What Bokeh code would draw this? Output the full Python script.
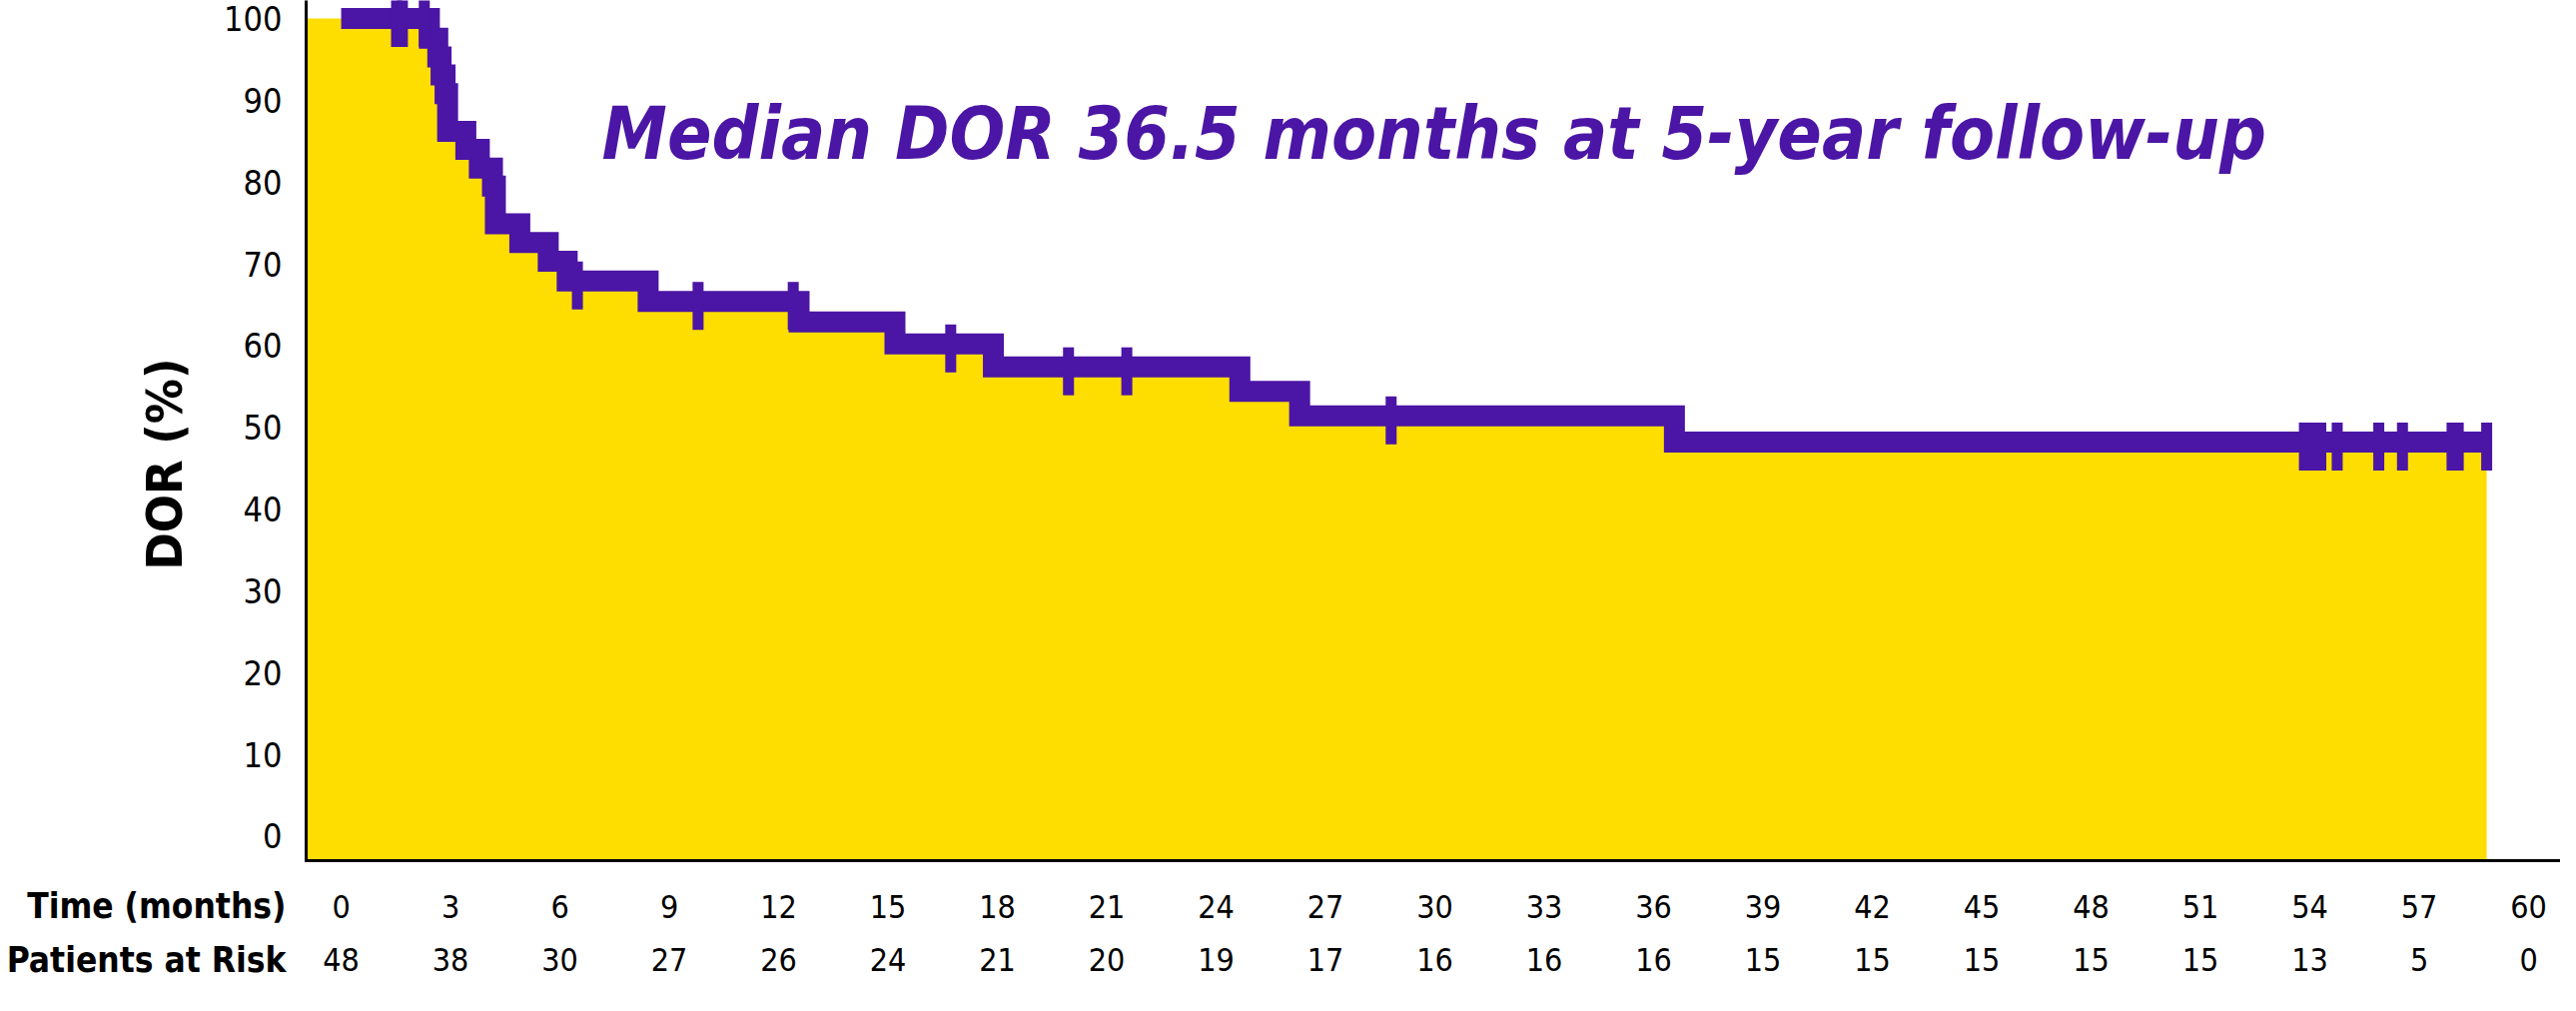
from math import pi
from bokeh.plotting import figure
from bokeh.models import Range1d
from bokeh.core.properties import value
from bokeh.embed import file_html
from bokeh.resources import INLINE

# ---------------- data ----------------
event_times = [0, 2.42, 2.65, 2.74, 2.85, 2.92, 3.42, 3.79, 4.15, 4.23, 4.90, 5.68,
               6.20, 8.42, 12.56, 15.19, 17.89, 24.65, 26.29, 36.57]
survival = [100, 97.6, 95.3, 93.1, 90.8, 86.2, 84.0, 81.7, 79.5, 74.9, 72.6, 70.3,
            67.9, 65.4, 62.9, 60.2, 57.4, 54.4, 51.4, 48.2]
end_time = 58.85
censor_times = [1.52, 1.68, 2.28, 6.48, 9.79, 12.40, 16.72, 19.95, 21.55, 28.80,
                53.85, 54.05, 54.30, 54.75, 55.89, 56.54, 57.90, 58.07, 58.85]
time_ticks = [0, 3, 6, 9, 12, 15, 18, 21, 24, 27, 30, 33, 36, 39, 42, 45, 48, 51, 54, 57, 60]
at_risk = [48, 38, 30, 27, 26, 24, 21, 20, 19, 17, 16, 16, 16, 15, 15, 15, 15, 15, 13, 5, 0]
y_ticks = [0, 10, 20, 30, 40, 50, 60, 70, 80, 90, 100]
title_text = "Median DOR 36.5 months at 5-year follow-up"
y_label = "DOR (%)"
row_labels = ["Time (months)", "Patients at Risk"]

# ---------------- style ----------------
YELLOW = "#FDDE00"
PURPLE = "#4B15A5"
FONT = value("DejaVu Sans Condensed, Liberation Sans Narrow, Roboto")
X0, X1 = -9.344, 60.875
Y0, Y1 = -19.49, 102.2
AXIS_X = -0.96
AXIS_Y = -3.0
TICK_LABEL_X = -1.62
ROW_LABEL_X = -1.51
YLABEL_X = -4.85
TITLE_X, TITLE_Y = 7.15, 85.95
ROW_TIME_Y = -8.6
ROW_RISK_Y = -15.1

p = figure(width=2563, height=996, output_backend="svg", toolbar_location=None,
           x_range=Range1d(X0, X1), y_range=Range1d(Y0, Y1),
           min_border_left=0, min_border_right=0, min_border_top=0, min_border_bottom=0)
p.outline_line_color = None
p.xgrid.visible = False
p.ygrid.visible = False
p.xaxis.visible = False
p.yaxis.visible = False
p.background_fill_color = "white"

def step_value(t):
    v = survival[0]
    for et, s in zip(event_times, survival):
        if et <= t:
            v = s
    return v

# yellow area under the curve
px = [AXIS_X, AXIS_X]
py = [AXIS_Y, survival[0]]
for i in range(len(event_times)):
    t_next = event_times[i + 1] if i + 1 < len(event_times) else end_time
    px += [t_next]
    py += [survival[i]]
    if i + 1 < len(event_times):
        px += [t_next]
        py += [survival[i + 1]]
px += [end_time]
py += [AXIS_Y]
p.patch(px, py, fill_color=YELLOW, line_color=None)

# axis lines
p.segment(x0=[AXIS_X, AXIS_X], y0=[AXIS_Y, AXIS_Y], x1=[AXIS_X, X1], y1=[Y1, AXIS_Y],
          line_color="black", line_width=3, line_cap="square")

# KM step line
p.step(x=event_times + [end_time], y=survival + [survival[-1]], mode="after",
       line_color=PURPLE, line_width=21, line_join="miter", line_cap="butt")

# censor marks
cy = [step_value(t) - 0.55 for t in censor_times]
p.rect(x=censor_times, y=cy, width=11, height=48, width_units="screen",
       height_units="screen", fill_color=PURPLE, line_color=None)

# y tick labels
p.text(x=[TICK_LABEL_X] * len(y_ticks), y=y_ticks, text=[str(t) for t in y_ticks],
       text_font=FONT, text_font_size=value("34px"), text_color="black",
       text_align="right", text_baseline="middle")

# y axis label
p.text(x=[YLABEL_X], y=[45.5], text=[y_label], angle=pi / 2, text_font=FONT,
       text_font_size=value("50px"), text_font_style="bold", text_color="black",
       text_align="center", text_baseline="middle")

# title
p.text(x=[TITLE_X], y=[TITLE_Y], text=[title_text], text_font=FONT,
       text_font_size=value("73px"), text_font_style="bold italic",
       text_color=PURPLE, text_align="left", text_baseline="middle")

# table rows
p.text(x=[ROW_LABEL_X, ROW_LABEL_X], y=[ROW_TIME_Y, ROW_RISK_Y], text=row_labels,
       text_font=FONT, text_font_size=value("35px"), text_font_style="bold",
       text_color="black", text_align="right", text_baseline="middle")
p.text(x=time_ticks, y=[ROW_TIME_Y] * len(time_ticks), text=[str(t) for t in time_ticks],
       text_font=FONT, text_font_size=value("32px"), text_color="black",
       text_align="center", text_baseline="middle")
p.text(x=time_ticks, y=[ROW_RISK_Y] * len(time_ticks), text=[str(n) for n in at_risk],
       text_font=FONT, text_font_size=value("32px"), text_color="black",
       text_align="center", text_baseline="middle")

open("out.html", "w").write(file_html(p, INLINE))
